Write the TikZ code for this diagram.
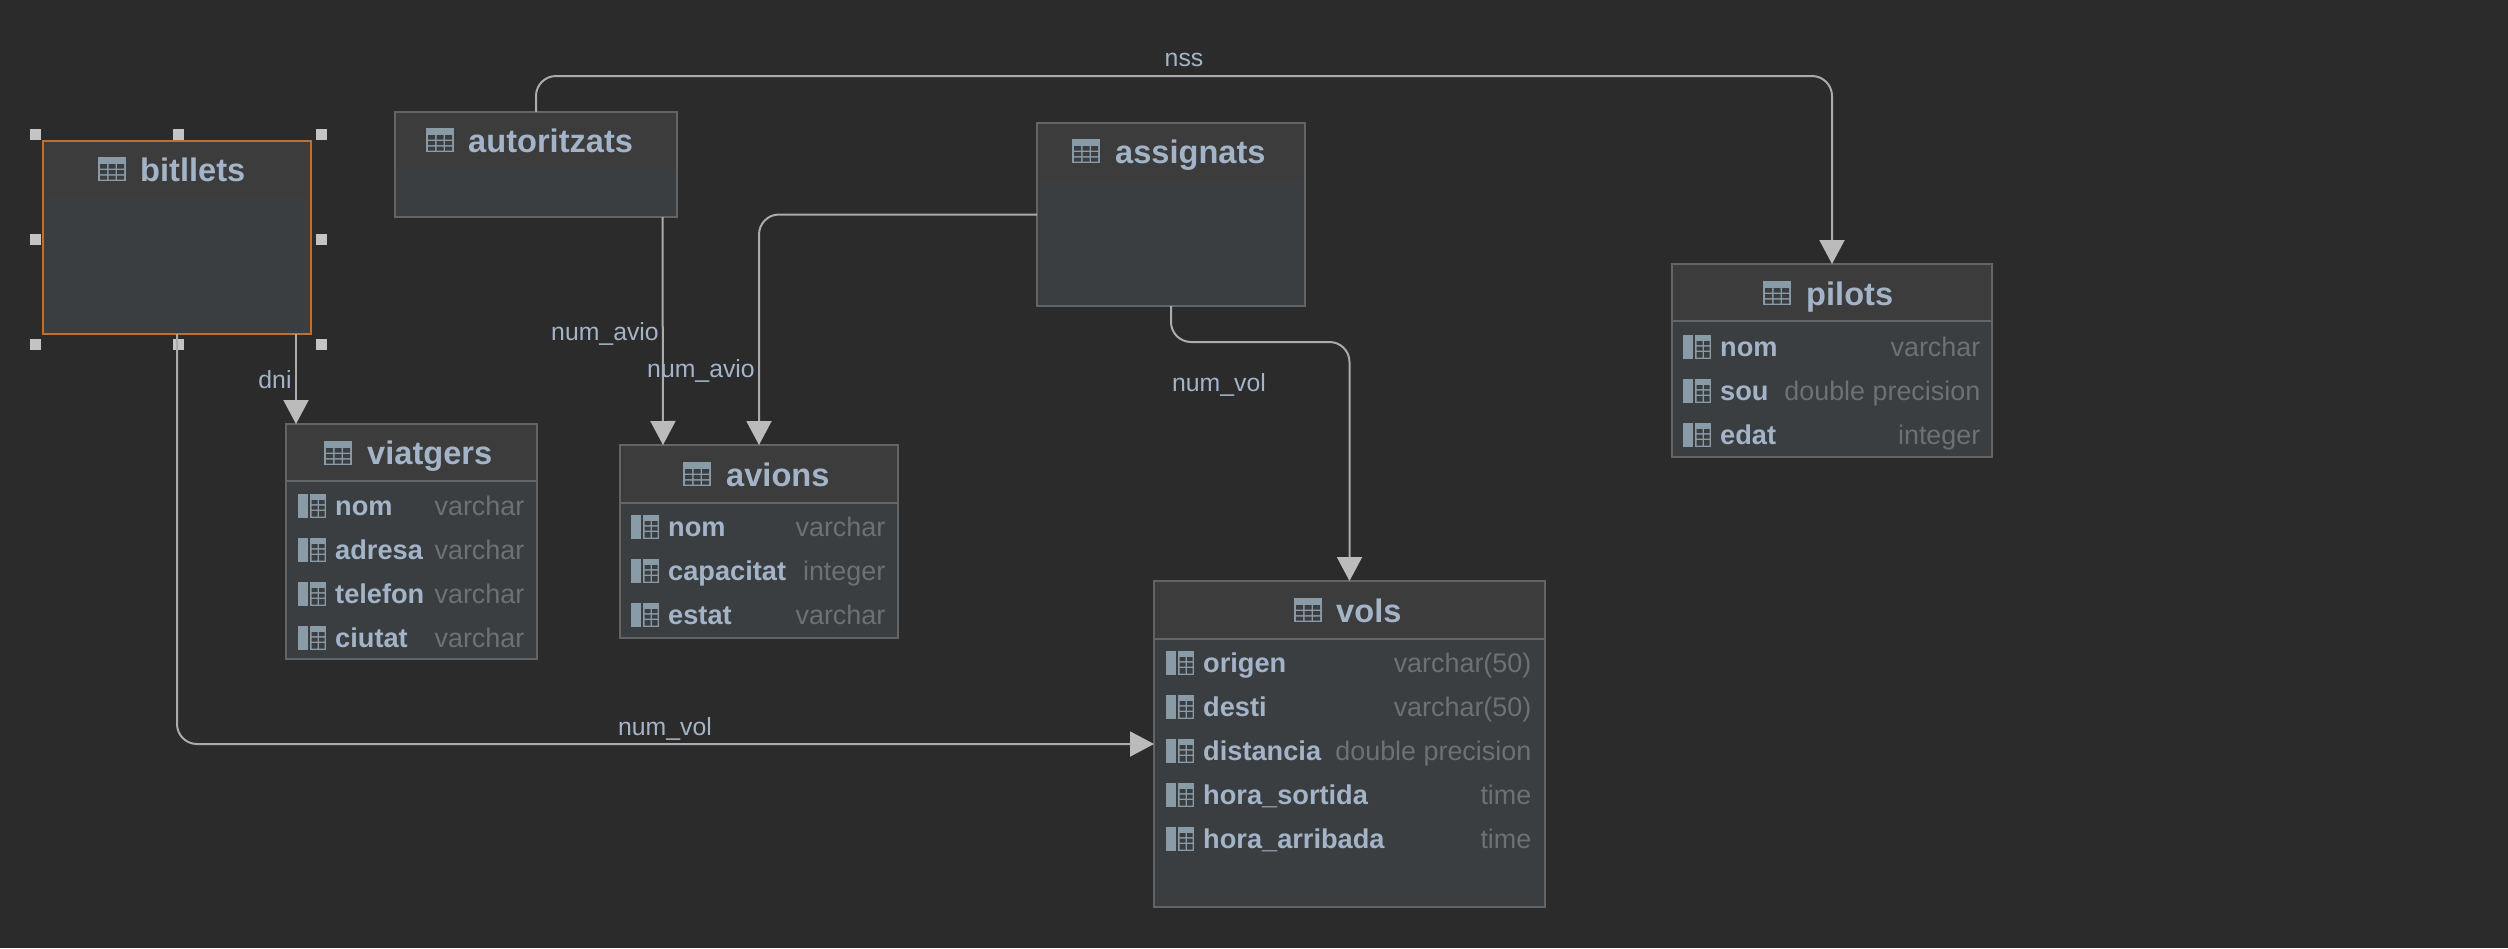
\documentclass[tikz,border=0pt]{standalone}
\usepackage{fontspec}
\setmainfont{Liberation Sans}
\usetikzlibrary{arrows.meta}
\definecolor{bgc}{HTML}{2B2B2B}
\definecolor{headc}{HTML}{3C3C3C}
\definecolor{bodyc}{HTML}{3B3E40}
\definecolor{edgec}{HTML}{626465}
\definecolor{textc}{HTML}{A4B4C8}
\definecolor{typec}{HTML}{6E7071}
\definecolor{linec}{HTML}{ABABAB}
\definecolor{tipc}{HTML}{BBBBBB}
\definecolor{handc}{HTML}{C4C4C4}
\definecolor{selc}{HTML}{C0702C}
\definecolor{iconc}{HTML}{8A9BA8}
\tikzset{
  conn/.style={draw=linec,line width=2pt,rounded corners=20pt,-{Triangle[length=24pt,width=25pt,color=tipc]}},
  tablebox/.style={draw=edgec,fill=bodyc,line width=1.6pt,inner sep=0pt,outer sep=0pt},
  titletext/.style={text=textc,font=\fontsize{32.6}{40}\selectfont\bfseries,inner sep=0pt,anchor=base west},
  colname/.style={text=textc,font=\fontsize{27.2}{30}\selectfont\bfseries,inner sep=0pt,anchor=base west},
  coltype/.style={text=typec,font=\fontsize{26.9}{30}\selectfont,inner sep=0pt,anchor=base east},
  linklabel/.style={text=textc,font=\fontsize{24.8}{28}\selectfont,inner sep=0pt},
  handle/.style={fill=handc,draw=none,minimum size=11pt,inner sep=0pt,outer sep=0pt},
}
% \tablenode{id}{x0}{y0}{x1}{y1}{header bottom}{rule colour}
\newcommand{\tablenode}[7]{%
  \pgfmathsetmacro{\tw}{#4-#2}\pgfmathsetmacro{\th}{#5-#3}%
  \node[tablebox,minimum width=\tw pt,minimum height=\th pt,anchor=north west] (#1) at (#2,#3) {};
  \fill[headc] (#2+1,#3+1) rectangle (#4-1,#6);
  \draw[draw=#7,line width=2pt] (#2+1,#6) -- (#4-1,#6);
}
% \tableicon{x}{y}: 28x24 grid icon, top left at x,y
\newcommand{\tableicon}[2]{%
  \begin{scope}[shift={(#1,#2)}]
    \fill[iconc] (0,0) rectangle (28,24);
    \fill[bodyc] (2,7) rectangle (9,11.5) (10.5,7) rectangle (17.5,11.5) (19,7) rectangle (26,11.5)
                 (2,13) rectangle (9,17) (10.5,13) rectangle (17.5,17) (19,13) rectangle (26,17)
                 (2,18.5) rectangle (9,22.5) (10.5,18.5) rectangle (17.5,22.5) (19,18.5) rectangle (26,22.5);
  \end{scope}}
% \colicon{x}{ycentre}
\newcommand{\colicon}[2]{%
  \begin{scope}[shift={(#1,#2-12)}]
    \fill[iconc] (0,0) rectangle (10,24);
    \fill[iconc] (12,0) rectangle (28,24);
    \fill[bodyc] (13.5,6) rectangle (19.5,10) (21,6) rectangle (26.5,10)
                 (13.5,11.5) rectangle (19.5,15.5) (21,11.5) rectangle (26.5,15.5)
                 (13.5,17) rectangle (19.5,22.5) (21,17) rectangle (26.5,22.5);
  \end{scope}}
% \colrow{id}{iconx}{textx}{rightx}{yc}{name}{type}
\newcommand{\colrow}[7]{%
  \colicon{#2}{#5}
  \node[colname] (#1n) at (#3,#5+9.5) {#6};
  \node[coltype] (#1t) at (#4+0.5,#5+9.5) {#7};
}
\begin{document}
\begin{tikzpicture}[x=1pt,y=-1pt]
\useasboundingbox (0,0) rectangle (2508,948);
\fill[bgc] (0,0) rectangle (2508,948);

% tables
\tablenode{bitllets}{43}{141}{311}{334}{197}{headc}
\tablenode{autoritzats}{395}{112}{677}{217}{168}{headc}
\tablenode{assignats}{1037}{123}{1305}{306}{179}{headc}
\tablenode{viatgers}{286}{424}{537}{659}{481}{edgec}
\tablenode{avions}{620}{445}{898}{638}{503}{edgec}
\tablenode{pilots}{1672}{264}{1992}{457}{321}{edgec}
\tablenode{vols}{1154}{581}{1545}{907}{639}{edgec}

% selection outline and handles
\node[draw=selc,line width=1.6pt,inner sep=0pt,outer sep=0pt,minimum width=268pt,minimum height=193pt,anchor=north west] (selbox) at (43,141) {};
\node[handle] (h1) at (35,134) {};
\node[handle] (h2) at (178,134) {};
\node[handle] (h3) at (321,134) {};
\node[handle] (h4) at (35,239) {};
\node[handle] (h5) at (321,239) {};
\node[handle] (h6) at (35,344) {};
\node[handle] (h7) at (178,344) {};
\node[handle] (h8) at (321,344) {};

% titles
\tableicon{98}{157}
\node[titletext] (tbitllets) at (140,181) {bitllets};
\tableicon{426}{128}
\node[titletext] (tautoritzats) at (468,152) {autoritzats};
\tableicon{1072}{139}
\node[titletext] (tassignats) at (1115,163) {assignats};
\tableicon{324}{441}
\node[titletext] (tviatgers) at (367,464) {viatgers};
\tableicon{683}{462}
\node[titletext] (tavions) at (726,486) {avions};
\tableicon{1763}{281}
\node[titletext] (tpilots) at (1806,305) {pilots};
\tableicon{1294}{598}
\node[titletext] (tvols) at (1336,622) {vols};

% rows
\colrow{v1}{298}{335}{524}{506}{nom}{varchar}
\colrow{v2}{298}{335}{524}{550}{adresa}{varchar}
\colrow{v3}{298}{335}{524}{594}{telefon}{varchar}
\colrow{v4}{298}{335}{524}{638}{ciutat}{varchar}
\colrow{a1}{631}{668}{885}{527}{nom}{varchar}
\colrow{a2}{631}{668}{885}{571}{capacitat}{integer}
\colrow{a3}{631}{668}{885}{615}{estat}{varchar}
\colrow{p1}{1683}{1720}{1980}{347}{nom}{varchar}
\colrow{p2}{1683}{1720}{1980}{391}{sou}{double precision}
\colrow{p3}{1683}{1720}{1980}{435}{edat}{integer}
\colrow{o1}{1166}{1203}{1531}{663}{origen}{varchar(50)}
\colrow{o2}{1166}{1203}{1531}{707}{desti}{varchar(50)}
\colrow{o3}{1166}{1203}{1531}{751}{distancia}{double precision}
\colrow{o4}{1166}{1203}{1531}{795}{hora\_sortida}{time}
\colrow{o5}{1166}{1203}{1531}{839}{hora\_arribada}{time}

% connectors
\coordinate (nssA) at (536,76);
\coordinate (nssB) at (1832,76);
\draw[conn] (autoritzats.north) -- (nssA) -- (nssB) -- (pilots.north);
\draw[conn] ([xshift=-15pt]bitllets.south east) -- ([xshift=10pt]viatgers.north west);
\draw[conn] (bitllets.south) |- (vols.west);
\draw[conn] ([xshift=-14.5pt]autoritzats.south east) -- ([xshift=43pt]avions.north west);
\draw[conn] (assignats.west) -| (avions.north);
\coordinate (volA) at (1171,342);
\coordinate (volB) at (1349.5,342);
\draw[conn] ([xshift=134pt]assignats.south west) -- (volA) -- (volB) -- (vols.north);

% labels
\node[linklabel] (l1) at (1184,60) {nss};
\node[linklabel] (l2) at (605,334) {num\_avio};
\node[linklabel] (l3) at (701,371) {num\_avio};
\node[linklabel] (l4) at (275,380) {dni};
\node[linklabel] (l5) at (1219,385) {num\_vol};
\node[linklabel] (l6) at (665,729) {num\_vol};
\end{tikzpicture}
\end{document}
